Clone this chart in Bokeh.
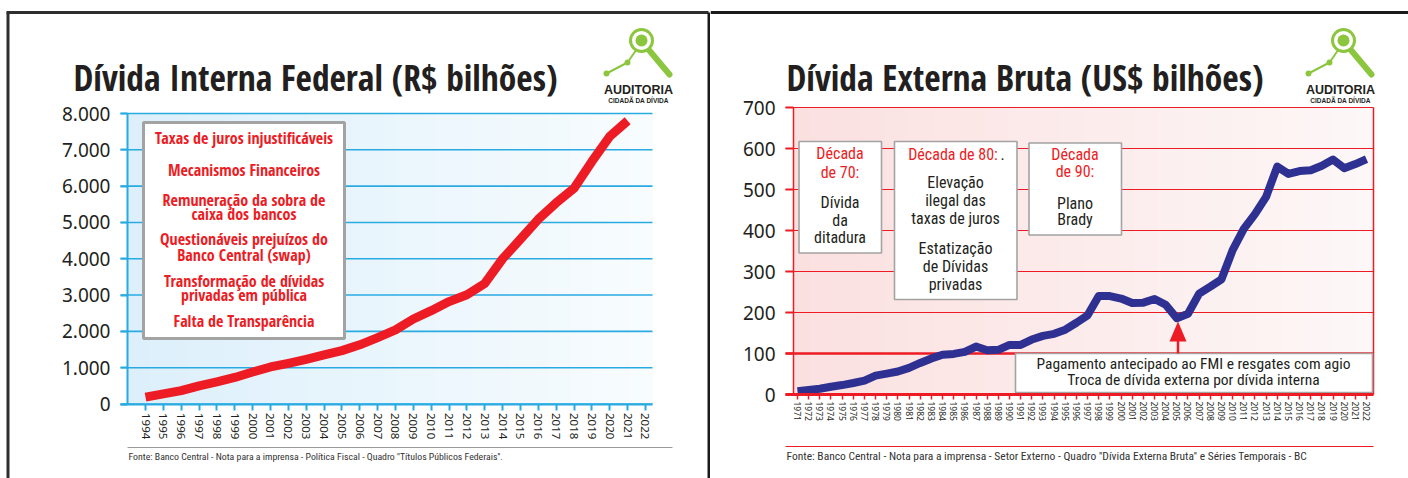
import math
from bokeh.plotting import figure
from bokeh.models import Range1d, LinearAxis, FixedTicker, AllLabels
from bokeh.layouts import row
from bokeh.core.properties import value
from bokeh.embed import file_html
from bokeh.resources import INLINE

# ---------------- data ----------------
anos_interna = [1994, 1995, 1996, 1997, 1998, 1999, 2000, 2001, 2002, 2003,
                2004, 2005, 2006, 2007, 2008, 2009, 2010, 2011, 2012, 2013,
                2014, 2015, 2016, 2017, 2018, 2019, 2020, 2021]
divida_interna = [190, 280, 370, 500, 610, 730, 880, 1020, 1120, 1230,
                  1350, 1470, 1630, 1830, 2040, 2340, 2570, 2820, 3010, 3320,
                  4000, 4540, 5090, 5540, 5940, 6680, 7370, 7800]
anos_eixo_interna = [1994, 1995, 1996, 1997, 1998, 1999, 2000, 2001, 2002, 2003,
                     2004, 2005, 2006, 2007, 2008, 2009, 2010, 2011, 2012, 2013,
                     2014, 2015, 2016, 2017, 2018, 2019, 2020, 2021, 2022]
ticks_y_interna = [0, 1000, 2000, 3000, 4000, 5000, 6000, 7000, 8000]
rotulos_y_interna = ["0", "1.000", "2.000", "3.000", "4.000", "5.000", "6.000", "7.000", "8.000"]

anos_externa = [1971, 1972, 1973, 1974, 1975, 1976, 1977, 1978, 1979, 1980,
                1981, 1982, 1983, 1984, 1985, 1986, 1987, 1988, 1989, 1990,
                1991, 1992, 1993, 1994, 1995, 1996, 1997, 1998, 1999, 2000,
                2001, 2002, 2003, 2004, 2005, 2006, 2007, 2008, 2009, 2010,
                2011, 2012, 2013, 2014, 2015, 2016, 2017, 2018, 2019, 2020,
                2021, 2022]
divida_externa = [8, 11, 14, 19, 23, 28, 34, 46, 51, 56,
                  65, 77, 88, 97, 99, 104, 117, 108, 109, 121,
                  121, 134, 143, 148, 158, 175, 193, 240, 240, 234,
                  223, 224, 233, 219, 186, 197, 246, 263, 281, 352,
                  404, 440, 482, 556, 538, 545, 547, 558, 573, 552,
                  562, 574]
ticks_y_externa = [0, 100, 200, 300, 400, 500, 600, 700]

titulo_interna = "Dívida Interna Federal (R$ bilhões)"
titulo_externa = "Dívida Externa Bruta (US$ bilhões)"
caixa_interna = ["Taxas de juros injustificáveis", "Mecanismos Financeiros",
                 "Remuneração da sobra de", "caixa dos bancos",
                 "Questionáveis prejuízos do", "Banco Central (swap)",
                 "Transformação de dívidas", "privadas em pública",
                 "Falta de Transparência"]
fonte_interna = "Fonte: Banco Central - Nota para a imprensa - Política Fiscal - Quadro ''Títulos Públicos Federais''."
fonte_externa = "Fonte: Banco Central - Nota para a imprensa - Setor Externo - Quadro ''Dívida Externa Bruta'' e Séries Temporais - BC"

# ---------------- styles ----------------
COND_BOLD = "Open Sans Condensed"
COND = "Roboto Condensed"
SANS = "Noto Sans"
DARK = "#231f20"
RED = "#ed1c24"
BLUE = "#29abe2"
NAVY = "#2e3192"
GREEN = "#8cc63f"
GRAY = "#a3a3a3"
H = 478


def base_fig(width, page_x0, x_of_px, y_of_px):
    p = figure(width=width, height=H,
               x_range=Range1d(x_of_px(page_x0), x_of_px(page_x0 + width)),
               y_range=Range1d(y_of_px(H), y_of_px(0)),
               x_axis_type=None, y_axis_type=None, min_border=0,
               toolbar_location=None, output_backend="svg",
               outline_line_color=None, background_fill_color="white",
               border_fill_color="white")
    p.title.visible = False
    p.extra_x_ranges = {"px": Range1d(page_x0, page_x0 + width)}
    p.extra_y_ranges = {"px": Range1d(H, 0)}
    return p


PX = dict(x_range_name="px", y_range_name="px")


def txt(p, xs, ys, texts, font, size, color, style="normal", align="center", baseline="middle"):
    p.text(x=xs, y=ys, text=texts, text_font=value(font), text_font_size=size,
           text_font_style=style, text_color=color, text_align=align,
           text_baseline=baseline, **PX)


def gradient(p, x0, x1, y0, y1, c0, c1, n=70):
    xs = [x0 + (x1 - x0) * i / n for i in range(n + 1)]
    cols = []
    for i in range(n):
        t = (i + 0.5) / n
        cols.append("#%02x%02x%02x" % tuple(round(a + (b - a) * t) for a, b in zip(c0, c1)))
    p.quad(left=xs[:-1], right=[x + 0.8 for x in xs[1:]], top=[y0] * n, bottom=[y1] * n,
           fill_color=cols, line_color=None, **PX)


def box(p, l, r, t, b, lw):
    p.quad(left=[l], right=[r], top=[t], bottom=[b], fill_color="white",
           line_color=GRAY, line_width=lw, **PX)


def logo(p, dx):
    p.line([606 + dx, 627 + dx, 636 + dx], [73, 62, 49], line_color=GREEN, line_width=2, **PX)
    p.scatter([606 + dx, 627 + dx], [73, 62], size=6, fill_color=GREEN, line_color=None, **PX)
    p.line([648 + dx, 669 + dx], [49, 74], line_color=GREEN, line_width=6, line_cap="round", **PX)
    p.scatter([641 + dx], [40], size=22, fill_color="white", line_color=GREEN, line_width=3, **PX)
    p.scatter([641 + dx], [40], size=12, fill_color=GREEN, line_color=None, **PX)
    txt(p, [638 + dx], [89], ["AUDITORIA"], "Liberation Sans", "12.5px", DARK, style="bold")
    txt(p, [638 + dx], [100], ["CIDADÃ DA DÍVIDA"], "Liberation Sans", "6.5px", DARK, style="bold")


# ================= LEFT PANEL =================
L_X0, L_W = 0, 710
L_YR0_PX, L_YR_STEP = 145.0, 17.857       # page x of 1994, px per year
L_ZERO_PX, L_PX_PER = 403.5, 290.5 / 8000  # page y of 0, px per unit


def lx(px):
    return 1994 + (px - L_YR0_PX) / L_YR_STEP


def ly(py):
    return (L_ZERO_PX - py) / L_PX_PER


pl = base_fig(L_W, L_X0, lx, ly)

# panel frame
pl.line([6, 708], [12, 12], line_color="#2e2e2e", line_width=3, **PX)
pl.line([7.5, 7.5], [12, 478], line_color="#2e2e2e", line_width=3, **PX)
pl.line([708.5, 708.5], [12, 478], line_color="#1a1a1a", line_width=3, **PX)

# plot area
gradient(pl, 127, 652, 113, 403.5, (220, 239, 251), (248, 252, 254))
XL0, XL1 = lx(127), lx(652)
pl.segment(x0=[lx(120)] * len(ticks_y_interna), x1=[XL1] * len(ticks_y_interna),
           y0=ticks_y_interna, y1=ticks_y_interna, line_color=BLUE, line_width=1.6)

pl.line(anos_interna, divida_interna, line_color=RED, line_width=9, line_join="round")

ay = LinearAxis(ticker=FixedTicker(ticks=ticks_y_interna), fixed_location=XL0,
                bounds=(0, 8000),
                major_label_overrides=dict(zip(ticks_y_interna, rotulos_y_interna)))
ax = LinearAxis(ticker=FixedTicker(ticks=anos_eixo_interna), fixed_location=0,
                bounds=(lx(120), XL1), major_label_orientation="vertical",
                major_label_policy=AllLabels())
for a in (ay, ax):
    a.axis_line_color = BLUE
    a.axis_line_width = 2
    a.major_tick_line_color = BLUE
    a.major_tick_line_width = 2
    a.major_tick_in = 0
    a.minor_tick_line_color = None
    a.major_label_text_font = SANS
    a.major_label_text_color = DARK
ay.major_tick_out = 7
ay.major_label_text_font_size = "19px"
ay.major_label_standoff = 10
ax.major_tick_out = 6
ax.major_label_text_font_size = "11.5px"
ax.major_label_standoff = 3
pl.add_layout(ay, "left")
pl.add_layout(ax, "below")

# text box
box(pl, 143, 344, 122, 338, 3)
txt(pl, [243.5] * 9, [137.5, 169, 199, 213.5, 238.5, 254, 280, 294.5, 320],
    caixa_interna, COND_BOLD, "16px", RED, style="bold")

# title, logo, footer
txt(pl, [73], [76], [titulo_interna], COND_BOLD, "35.5px", DARK, style="bold", align="left",
    baseline="alphabetic")
logo(pl, 0)
pl.line([127, 672], [447, 447], line_color="#9a9a9a", line_width=1, **PX)
txt(pl, [128], [456], [fonte_interna], COND, "9.8px", "#333333", align="left")

# ================= RIGHT PANEL =================
R_X0, R_W = 710, 698
R_YR0_PX, R_YR_STEP = 797.0, 11.157
R_ZERO_PX, R_PX_PER = 394.0, 0.41


def rx(px):
    return 1971 + (px - R_YR0_PX) / R_YR_STEP


def ry(py):
    return (R_ZERO_PX - py) / R_PX_PER


pr = base_fig(R_W, R_X0, rx, ry)
pr.line([710, 1408], [12, 12], line_color="#1a1a1a", line_width=3, **PX)

gradient(pr, 793, 1373, 107, 394, (251, 224, 224), (253, 247, 247))
XR0, XR1 = rx(793), rx(1373)
grid_w = [1.2 if t != 100 else 2.6 for t in ticks_y_externa]
pr.segment(x0=[rx(785)] * len(ticks_y_externa), x1=[XR1] * len(ticks_y_externa),
           y0=ticks_y_externa, y1=ticks_y_externa, line_color=RED, line_width=grid_w)
pr.segment(x0=[XR1], x1=[XR1], y0=[0], y1=[700], line_color=RED, line_width=1.5)

box(pr, 798.5, 881, 141, 252.5, 1.6)
box(pr, 894, 1016.5, 141, 299, 1.6)
box(pr, 1028.5, 1121, 142.5, 234.5, 1.6)

pr.line(anos_externa, divida_externa, line_color=NAVY, line_width=8, line_join="round")

box(pr, 1015, 1372, 353, 392, 1.6)
pr.line([1177.5, 1177.5], [340, 353], line_color=RED, line_width=2.5, **PX)
pr.patch([1169, 1186, 1177.5], [341, 341, 321], fill_color=RED, line_color=None, **PX)

ry_ax = LinearAxis(ticker=FixedTicker(ticks=ticks_y_externa), fixed_location=XR0,
                   bounds=(0, 700))
rx_ax = LinearAxis(ticker=FixedTicker(ticks=anos_externa), fixed_location=0,
                   bounds=(rx(785), XR1), major_label_orientation="vertical",
                   major_label_policy=AllLabels())
for a in (ry_ax, rx_ax):
    a.axis_line_color = RED
    a.major_tick_line_color = RED
    a.major_tick_in = 0
    a.minor_tick_line_color = None
    a.major_label_text_font = SANS
    a.major_label_text_color = DARK
ry_ax.axis_line_width = 1.5
ry_ax.major_tick_line_width = 2
ry_ax.major_tick_out = 8
ry_ax.major_label_text_font_size = "19px"
ry_ax.major_label_standoff = 10
rx_ax.axis_line_width = 3
rx_ax.major_tick_line_width = 1.5
rx_ax.major_tick_out = 5
rx_ax.major_label_text_font_size = "8.5px"
rx_ax.major_label_standoff = 2
pr.add_layout(ry_ax, "left")
pr.add_layout(rx_ax, "below")

# box texts
txt(pr, [839.5, 839.5], [153, 171.5], ["Década", "de 70:"], COND, "16px", RED)
txt(pr, [839.5] * 3, [201.5, 219.5, 237], ["Dívida", "da", "ditadura"], COND, "16px", DARK)
txt(pr, [952.5], [153.5], ["Década de 80:"], COND, "16px", RED)
txt(pr, [1000], [153.5], ["."], COND, "16px", DARK, align="left")
txt(pr, [955, 955, 955, 955, 955, 955], [182, 200, 218, 247.5, 265.5, 284],
    ["Elevação", "ilegal das", "taxas de juros", "Estatização", "de Dívidas", "privadas"],
    COND, "16px", DARK)
txt(pr, [1074.5, 1074.5], [153.5, 170.5], ["Década", "de 90:"], COND, "16px", RED)
txt(pr, [1074.5, 1074.5], [202.5, 219], ["Plano", "Brady"], COND, "16px", DARK)
txt(pr, [1193, 1193], [363.5, 379.5],
    ["Pagamento antecipado ao FMI e resgates com agio",
     "Troca de dívida externa por dívida interna"], COND, "15.5px", DARK)

txt(pr, [786], [76], [titulo_externa], COND_BOLD, "35.5px", DARK, style="bold", align="left",
    baseline="alphabetic")
logo(pr, 702)
pr.line([785, 1373], [446, 446], line_color=RED, line_width=1, **PX)
txt(pr, [786], [455], [fonte_externa], COND, "11.5px", "#333333", align="left")

layout = row(pl, pr)
open("out.html", "w").write(file_html(layout, INLINE))
